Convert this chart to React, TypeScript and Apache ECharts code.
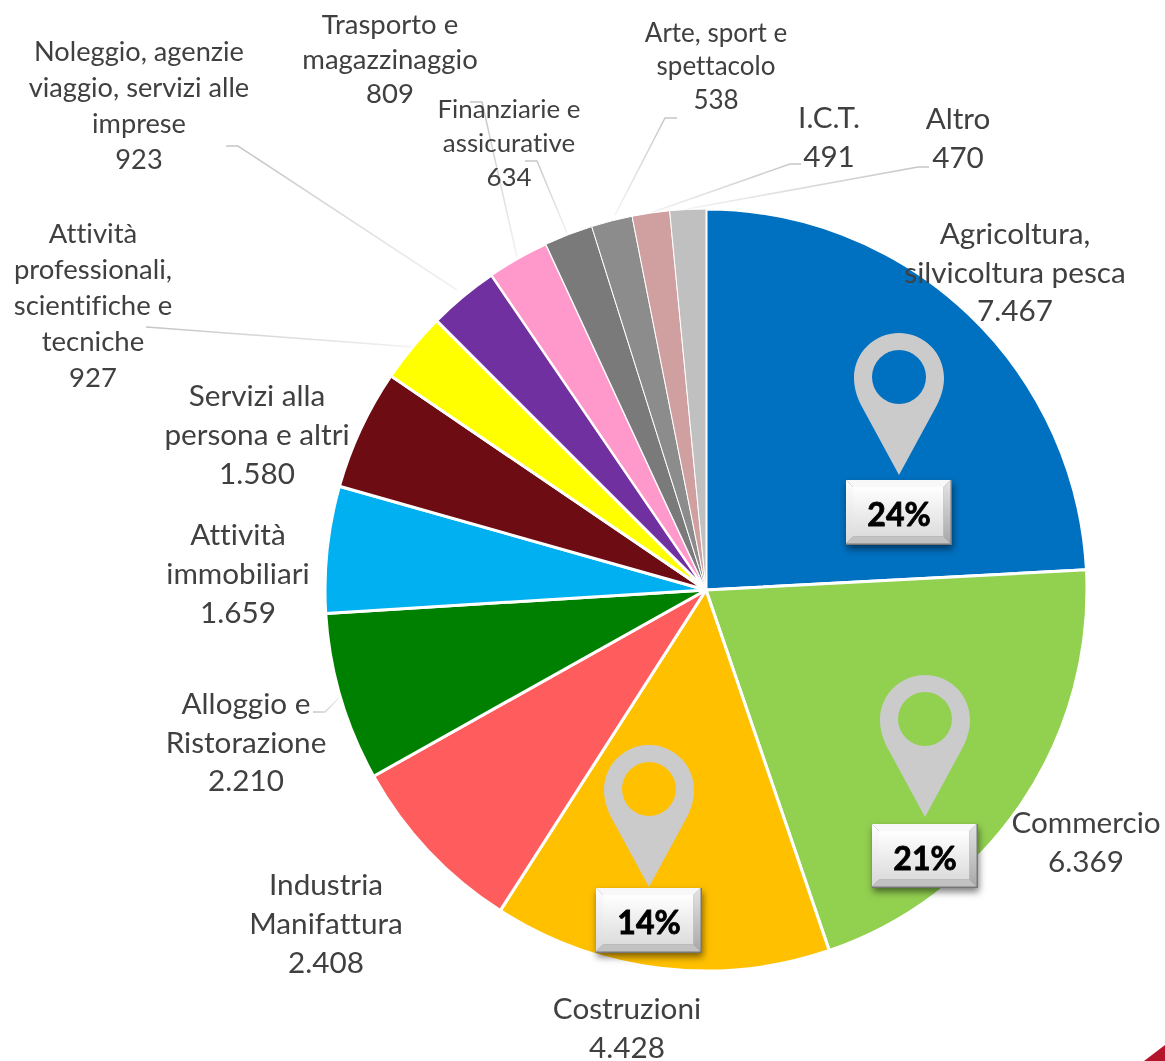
import React, { useEffect, useRef } from "react";
import * as echarts from "echarts";

const categories = [
  "Agricoltura,\nsilvicoltura pesca",
  "Commercio",
  "Costruzioni",
  "Industria\nManifattura",
  "Alloggio e\nRistorazione",
  "Attività\nimmobiliari",
  "Servizi alla\npersona e altri",
  "Attività\nprofessionali,\nscientifiche e\ntecniche",
  "Noleggio, agenzie\nviaggio, servizi alle\nimprese",
  "Trasporto e\nmagazzinaggio",
  "Finanziarie e\nassicurative",
  "Arte, sport e\nspettacolo",
  "I.C.T.",
  "Altro",
];
const values = [7467, 6369, 4428, 2408, 2210, 1659, 1580, 927, 923, 809, 634, 538, 491, 470];
const colors = ["#0070C0", "#92D050", "#FFC000", "#FF5D5D", "#008000", "#00B0F0", "#6D0C13", "#FFFF00", "#7030A0", "#FF99CC", "#7A7A7A", "#8C8C8C", "#D0A0A0", "#C0C0C0"];

// label centre x, centre y, font size, line height, slice border
const labelBoxes: number[][] = [
  [1015, 271, 29.7, 38.5, 3],
  [1086, 841, 29.7, 39, 3],
  [627, 1027, 29.7, 39, 3],
  [326, 922, 29.7, 39, 3],
  [246, 741, 29.7, 38.5, 3],
  [238, 572, 29.7, 39, 3],
  [257, 433, 29.7, 39, 3],
  [93, 304, 27.5, 36, 3],
  [139, 104, 27.2, 36, 3],
  [390, 58, 27.5, 34.5, 2],
  [509, 141.5, 25.9, 34, 1],
  [716, 65, 26, 33.5, 1],
  [829, 136, 29.7, 39, 1],
  [958, 137, 29.7, 39, 1],
];
// leader lines (label end, elbow, slice end); null where the reference has none
const leaders: (number[][] | null)[] = [
  null, null, null, null,
  [[313, 712], [325, 712], [340, 697]],
  null, null,
  [[146, 327], [160, 328], [413, 347]],
  [[226, 146], [238, 146], [457, 290]],
  [[470, 102], [482, 102], [517, 257]],
  [[525, 161], [537, 161], [567, 233]],
  [[677, 118], [665, 118], [615, 215]],
  [[801, 164], [790, 164], [653, 212]],
  [[929, 167], [918, 167], [687, 209]],
];

const percentLabels = ["24%", "21%", "14%"];
// pin left, pin top, box left, box top, box height
const pins: number[][] = [
  [854, 333, 846, 480, 65],
  [880, 675, 872, 824, 64],
  [604, 745, 596, 888, 65],
];

const PIN =
  "M45 0 C20 0 0 20 0 45 C0 55 3 64 7 72 L45 142 L83 72 C87 64 90 55 90 45 C90 20 70 0 45 0 Z " +
  "M45 17 A27 27 0 1 1 45 71 A27 27 0 1 1 45 17 Z";
echarts.graphic.registerShape("mapPin", echarts.graphic.extendPath(PIN as any, {} as any) as any);

const fmt = (v: number) => String(v).replace(/\B(?=(\d{3})+$)/g, ".");
const vGrad = (a: string, b: string) => ({
  type: "linear", x: 0, y: 0, x2: 0, y2: 1,
  colorStops: [{ offset: 0, color: a }, { offset: 1, color: b }],
});

function badge(text: string, x: number, y: number, h: number) {
  const W = 106;
  const w = W - 1.5;
  const H = h - 1.5;
  const b = 7;
  const z = 20;
  return {
    type: "group", x, y,
    children: [
      { type: "rect", z, shape: { x: 0, y: 0, width: W, height: h }, style: { fill: "#777777", shadowBlur: 7, shadowOffsetX: 1, shadowOffsetY: 4, shadowColor: "rgba(0,0,0,0.5)" } },
      { type: "polygon", z, shape: { points: [[0, 0], [w, 0], [w - b, b], [b, b]] }, style: { fill: "#f8f8f8" } },
      { type: "polygon", z, shape: { points: [[0, 0], [b, b], [b, H - b], [0, H]] }, style: { fill: vGrad("#ffffff", "#d8d8d8") } },
      { type: "polygon", z, shape: { points: [[w, 0], [w - b, b], [w - b, H - b], [w, H]] }, style: { fill: vGrad("#e4e4e4", "#a8a8a8") } },
      { type: "polygon", z, shape: { points: [[0, H], [b, H - b], [w - b, H - b], [w, H]] }, style: { fill: "#c2c2c2" } },
      { type: "rect", z, shape: { x: b, y: b, width: w - 2 * b, height: H - 2 * b }, style: { fill: vGrad("#ffffff", "#dcdcdc") } },
      { type: "text", z: z + 1, x: W / 2, y: h / 2 + 1, style: { text, fill: "#000", stroke: "#000", lineWidth: 0.8, font: "bold 32px Lato", align: "center", verticalAlign: "middle" } },
    ],
  };
}

export default function App() {
  const ref = useRef<HTMLDivElement>(null);
  useEffect(() => {
    const chart = echarts.init(ref.current!, undefined, { renderer: "svg" });
    const data = categories.map((name, i) => {
      const l = leaders[i];
      return {
        name,
        value: values[i],
        itemStyle: { color: colors[i], borderWidth: labelBoxes[i][4] },
        label: { fontSize: labelBoxes[i][2], lineHeight: labelBoxes[i][3] },
        labelLine: l
          ? {
              show: true,
              lineStyle: {
                width: 1.5,
                color: {
                  type: "linear", global: true,
                  x: l[0][0], y: l[0][1], x2: l[2][0], y2: l[2][1],
                  colorStops: [{ offset: 0, color: "#c4c4c4" }, { offset: 1, color: "#f2f2f2" }],
                },
              },
            }
          : { show: false },
      };
    });
    chart.setOption({
      animation: false,
      series: [
        {
          type: "pie",
          center: [706, 590],
          radius: [0, 381],
          startAngle: 90,
          clockwise: true,
          avoidLabelOverlap: false,
          itemStyle: { borderColor: "#fff" },
          label: {
            show: true,
            color: "#404040",
            fontFamily: "Lato",
            align: "center",
            formatter: (p: any) => `${p.name}\n${fmt(p.value)}`,
          },
          labelLine: { show: true },
          labelLayout: (p: any) => {
            const i = p.dataIndex;
            const out: any = { x: labelBoxes[i][0], y: labelBoxes[i][1], align: "center", verticalAlign: "middle" };
            if (leaders[i]) out.labelLinePoints = leaders[i];
            return out;
          },
          data,
        },
      ],
      graphic: [
        ...pins.map((p) => ({ type: "mapPin", x: p[0], y: p[1], z: 10, style: { fill: "#CBCBCB" } })),
        ...pins.map((p, i) => badge(percentLabels[i], p[2], p[3], p[4])),
        { type: "polygon", z: 5, shape: { points: [[1144, 1061], [1165, 1045], [1165, 1061]] }, style: { fill: "#B5152B" } },
      ],
    });
    return () => chart.dispose();
  }, []);
  return <div ref={ref} style={{ position: "fixed", left: 0, top: 0, width: 1165, height: 1061, fontVariantLigatures: "none" }} />;
}
